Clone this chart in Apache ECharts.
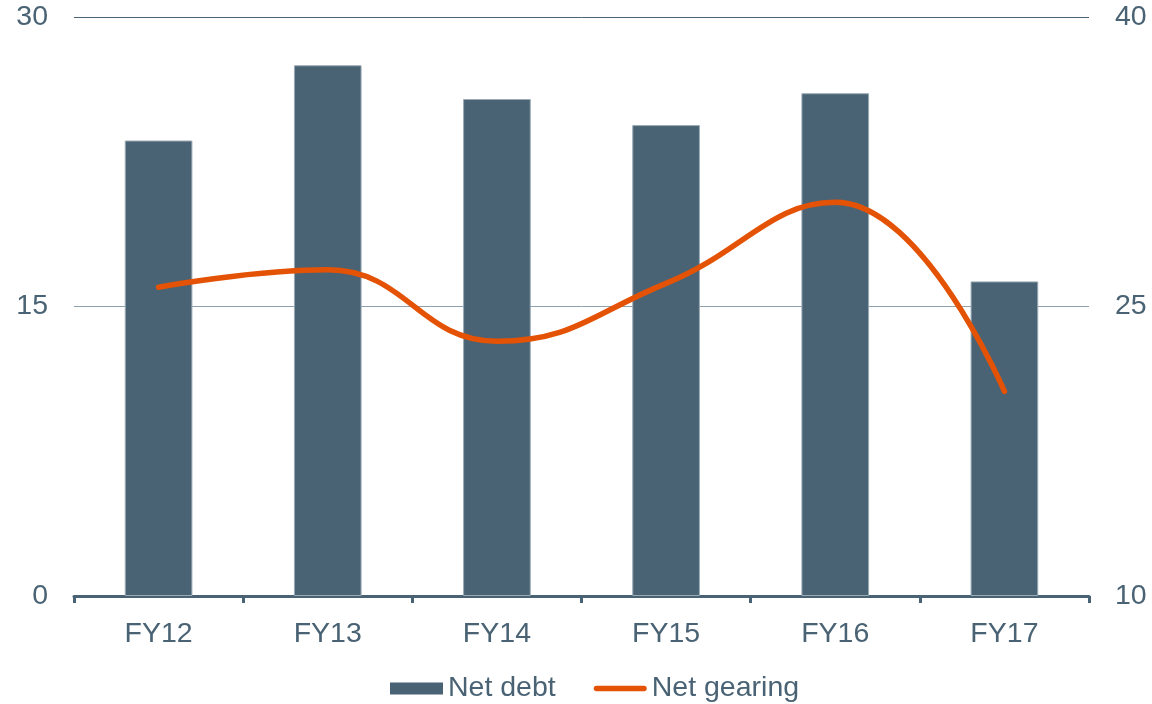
<!DOCTYPE html>
<html>
<head>
<meta charset="utf-8">
<script src="https://cdn.jsdelivr.net/npm/echarts@6/dist/echarts.min.js"></script>
<style>
  html, body { margin: 0; padding: 0; background: #ffffff; }
  #chart { width: 1152px; height: 704px; }
</style>
</head>
<body>
<div id="chart"></div>
<script>
// Fiscal years on the category axis
const years = ['FY12', 'FY13', 'FY14', 'FY15', 'FY16', 'FY17'];
// Net debt (left axis)
const netDebt = [23.6, 27.5, 25.75, 24.4, 26.05, 16.3];
// Net gearing (right axis)
const netGearing = [26.0, 26.9, 23.2, 26.2, 30.4, 20.6];
// Axis tick settings
const leftTicks = { min: 0, max: 30, interval: 15 };
const rightTicks = { min: 10, max: 40, interval: 15 };

const slate = '#4a6374';
const orange = '#e35205';
const gridGrey = '#8fa1ad';
const font = '"Liberation Sans", Arial, sans-serif';
const fontSize = 28.5;

// Thick rounded stroke used as the legend marker of the line series
const lineIcon = 'path://M0,0 M0,12 M2.75,3.25 L50.25,3.25 A2.75,2.75 0 0 1 50.25,8.75 L2.75,8.75 A2.75,2.75 0 0 1 2.75,3.25 Z M53,0';

const chart = echarts.init(document.getElementById('chart'), null, { renderer: 'canvas' });
chart.setOption({
  animation: false,
  textStyle: { fontFamily: font },
  grid: { left: 74, right: 63, top: 17, bottom: 108, containLabel: false },
  legend: {
    top: 674,
    left: 390,
    padding: 0,
    itemWidth: 53,
    itemHeight: 12,
    itemGap: 38,
    textStyle: { color: slate, fontSize: fontSize, fontFamily: font },
    data: [
      { name: 'Net debt', icon: 'rect', itemStyle: { color: slate, borderWidth: 0 } },
      { name: 'Net gearing', icon: lineIcon, itemStyle: { color: orange } }
    ]
  },
  xAxis: {
    type: 'category',
    data: years,
    axisLine: { lineStyle: { color: slate, width: 3 } },
    axisTick: { show: true, length: 7, lineStyle: { color: slate, width: 3 } },
    axisLabel: { color: slate, fontSize: fontSize, margin: 24, fontFamily: font },
    splitLine: { show: false }
  },
  yAxis: [
    {
      type: 'value',
      min: leftTicks.min, max: leftTicks.max, interval: leftTicks.interval,
      axisLine: { show: false },
      axisTick: { show: false },
      axisLabel: { color: slate, fontSize: fontSize, margin: 26, fontFamily: font },
      splitLine: { show: true, lineStyle: { color: [gridGrey, gridGrey, slate], width: 1 } }
    },
    {
      type: 'value',
      position: 'right',
      min: rightTicks.min, max: rightTicks.max, interval: rightTicks.interval,
      axisLine: { show: false },
      axisTick: { show: false },
      axisLabel: { color: slate, fontSize: fontSize, margin: 26, fontFamily: font },
      splitLine: { show: false }
    }
  ],
  series: [
    {
      name: 'Net debt',
      type: 'bar',
      yAxisIndex: 0,
      data: netDebt,
      barWidth: '40%',
      itemStyle: { color: slate, borderColor: '#9aabb6', borderWidth: 1 },
      z: 2
    },
    {
      name: 'Net gearing',
      type: 'line',
      yAxisIndex: 1,
      data: netGearing,
      smooth: 0.45,
      symbol: 'none',
      lineStyle: { color: orange, width: 5.5, cap: 'round', join: 'round' },
      itemStyle: { color: orange },
      z: 3
    }
  ]
});
</script>
</body>
</html>
